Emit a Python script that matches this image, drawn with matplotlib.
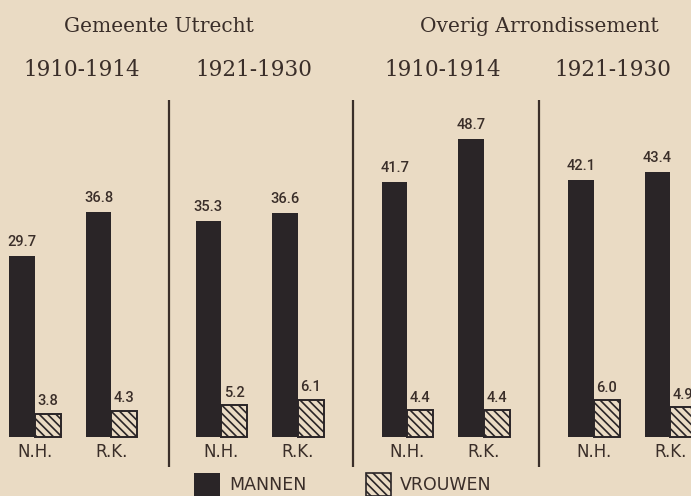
import matplotlib
matplotlib.use("Agg")
import matplotlib.pyplot as plt
from matplotlib.patches import Rectangle

# ---- data ----
regions = ["Gemeente Utrecht", "Overig Arrondissement"]
periods = ["1910-1914", "1921-1930", "1910-1914", "1921-1930"]
categories = ["N.H.", "R.K."]
mannen = [[29.7, 36.8], [35.3, 36.6], [41.7, 48.7], [42.1, 43.4]]
vrouwen = [[3.8, 4.3], [5.2, 6.1], [4.4, 4.4], [6.0, 4.9]]
mannen_labels = [["29.7", "36.8"], ["35.3", "36.6"], ["41.7", "48.7"], ["42.1", "43.4"]]
vrouwen_labels = [["3.8", "4.3"], ["5.2", "6.1"], ["4.4", "4.4"], ["6.0", "4.9"]]
legend_labels = ["MANNEN", "VROUWEN"]

# ---- style ----
BG = "#EADBC4"
BAR = "#2A2527"
TXT = "#3A2E29"
plt.rcParams["hatch.linewidth"] = 1.2
plt.rcParams["hatch.color"] = BAR
HATCH = "\\\\\\\\"

W, H = 691, 496
fig = plt.figure(figsize=(W / 100, H / 100), dpi=100, facecolor=BG)
ax = fig.add_axes([0, 0, 1, 1])
ax.set_facecolor(BG)
ax.axis("off")

# x axis in pixel-like layout units, y axis in data units
px_per_unit = 6.11
base_px = 437  # baseline, pixels from top
ax.set_xlim(0, W)
ax.set_ylim(-(H - base_px) / px_per_unit, base_px / px_per_unit)


def y_of(py):
    """pixel row from top -> data y"""
    return (base_px - py) / px_per_unit


A, G, C = 34.8, 186.3, 76.5
wm, wv = 25.5, 26

value_font = ["Roboto", "DejaVu Sans"]
serif = ["DejaVu Serif"]
sans = ["DejaVu Sans"]

period_dx = [9, -5, -3, -19]

for g in range(4):
    for c in range(2):
        j = A + g * G + c * C
        m = mannen[g][c]
        v = vrouwen[g][c]
        ax.bar(j - wm, m, width=wm, align="edge", bottom=0, color=BAR, linewidth=0)
        ax.bar(j, v, width=wv, align="edge", bottom=0, facecolor=BG,
               edgecolor=BAR, hatch=HATCH, linewidth=1.4)
        ax.annotate(mannen_labels[g][c], (j - wm / 2, m), xytext=(0, 5),
                    textcoords="offset points", ha="center", va="bottom",
                    fontsize=10.5, fontweight="medium", color=TXT, family=value_font)
        ax.annotate(vrouwen_labels[g][c], (j + wv / 2, v), xytext=(0, 4),
                    textcoords="offset points", ha="center", va="bottom",
                    fontsize=10.5, fontweight="medium", color=TXT, family=value_font)
        ax.annotate(categories[c], (j, 0), xytext=(0, -4),
                    textcoords="offset points", ha="center", va="top",
                    fontsize=12, color=TXT, family=sans)
    gc = A + g * G + C / 2 + period_dx[g]
    ax.text(gc, y_of(70), periods[g], ha="center", va="center",
            fontsize=15.5, color=TXT, family=serif)

# separators between groups
for g in range(3):
    left_end = A + g * G + C + wv
    right_start = A + (g + 1) * G - wm
    xs = (left_end + right_start) / 2 + (3 if g == 0 else 0)
    ax.plot([xs, xs], [y_of(467), y_of(100)], color=TXT, linewidth=1.6,
            solid_capstyle="butt")

# region titles
title_dx = [-7, 1]
for r in range(2):
    cx = A + (2 * r) * G + C / 2 + G / 2 + title_dx[r]
    ax.text(cx, y_of(26), regions[r], ha="center", va="center",
            fontsize=14.5, color=TXT, family=serif)

# legend
ly = y_of(485)
ax.add_patch(Rectangle((194, y_of(497)), 26, 24 / px_per_unit,
                       facecolor=BAR, edgecolor="none"))
ax.text(229, ly, legend_labels[0], ha="left", va="center", fontsize=12.5,
        color=TXT, family=sans)
ax.add_patch(Rectangle((366, y_of(496)), 25, 23 / px_per_unit,
                       facecolor=BG, edgecolor=BAR, hatch=HATCH, linewidth=1.2))
ax.text(400, ly, legend_labels[1], ha="left", va="center", fontsize=12.5,
        color=TXT, family=sans)

fig.savefig("out.png", dpi=100, facecolor=BG)
